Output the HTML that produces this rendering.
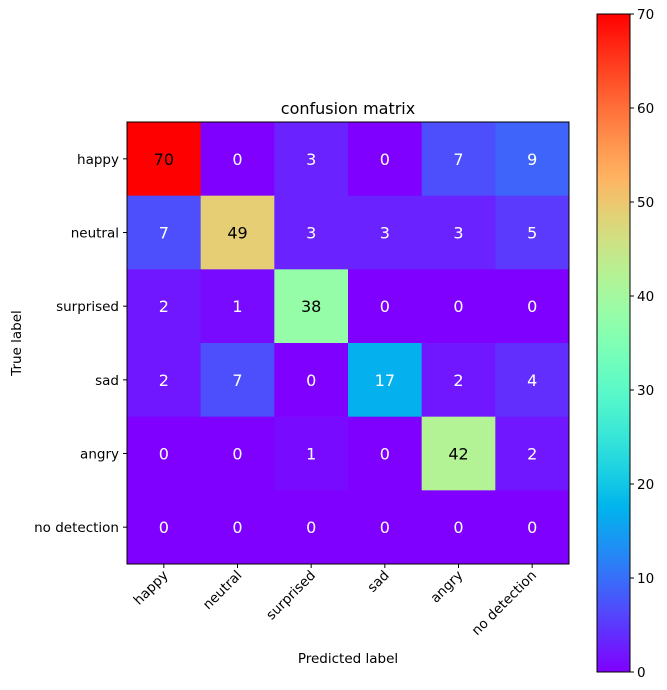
<!DOCTYPE html>
<html><head><meta charset="utf-8"><style>
html,body{margin:0;padding:0;background:#fff;}
svg{display:block;font-family:"DejaVu Sans","Liberation Sans",sans-serif;}
</style></head><body>
<svg id="chart" width="667" height="690" viewBox="0 0 667 690">
<defs><linearGradient id="cbgrad" x1="0" y1="1" x2="0" y2="0"></linearGradient></defs>
</svg>
<script>
const classes = ["happy","neutral","surprised","sad","angry","no detection"];
const matrix = [
 [70,0,3,0,7,9],
 [7,49,3,3,3,5],
 [2,1,38,0,0,0],
 [2,7,0,17,2,4],
 [0,0,1,0,42,2],
 [0,0,0,0,0,0]
];
const cbTicks = [0,10,20,30,40,50,60,70];

const NS="http://www.w3.org/2000/svg";
const svg=document.getElementById('chart');
function mk(tag,attrs,parent){const e=document.createElementNS(NS,tag);for(const k in attrs)e.setAttribute(k,attrs[k]);(parent||svg).appendChild(e);return e;}
function clip(v){return Math.max(0,Math.min(1,v));}
function rainbow(x){const r=clip(Math.abs(2*x-0.5)),g=clip(Math.sin(Math.PI*x)),b=clip(Math.cos(Math.PI*x/2));
 return `rgb(${Math.round(r*255)},${Math.round(g*255)},${Math.round(b*255)})`;}
let vmax=0;matrix.forEach(r=>r.forEach(v=>{if(v>vmax)vmax=v;}));
const L=127,T=122,S=442,n=classes.length,cw=S/n;
const xS=j=>L+j*cw, yS=i=>T+i*cw;
const thresh=vmax/2;

matrix.forEach((row,i)=>row.forEach((v,j)=>{
 const r=mk('rect',{x:xS(j),y:yS(i),width:cw+0.5,height:cw+0.5,fill:rainbow(v/vmax)});
 
 
 const t=mk('text',{x:xS(j)+cw/2,y:yS(i)+cw/2+6,'text-anchor':'middle','font-size':16,fill:v>thresh?'#000':'#fff'});
 t.textContent=v;
 
 
}));
const fr=mk('rect',{x:L,y:T,width:S,height:S,fill:'none',stroke:'#000','stroke-width':1});


classes.forEach((c,i)=>{
 const y=yS(i)+cw/2;
 mk('line',{x1:L-4,x2:L,y1:y,y2:y,stroke:'#000'});
 const t=mk('text',{x:L-8,y:y+5,'text-anchor':'end','font-size':13.5});
 t.textContent=c;
 const x=xS(i)+cw/2;
 mk('line',{x1:x,x2:x,y1:T+S,y2:T+S+4,stroke:'#000'});
 const tx=mk('text',{x:x+5,y:T+S+12,'text-anchor':'end','font-size':13.5,transform:`rotate(-45 ${x+5} ${T+S+12})`});
 tx.textContent=c;
});
let t=mk('text',{x:L+S/2,y:T-8,'text-anchor':'middle','font-size':16});t.textContent='confusion matrix';

t=mk('text',{x:L+S/2,y:663,'text-anchor':'middle','font-size':13.5});t.textContent='Predicted label';

t=mk('text',{x:21,y:T+S/2,'text-anchor':'middle','font-size':13.5,transform:`rotate(-90 21 ${T+S/2})`});t.textContent='True label';


// colorbar
const grad=document.getElementById('cbgrad');
for(let k=0;k<=20;k++){mk('stop',{offset:k/20,'stop-color':rainbow(k/20)},grad);}
const cbL=597,cbT=14,cbW=33,cbB=672;
const cy=v=>cbB-(v/vmax)*(cbB-cbT);
const cb=mk('rect',{x:cbL,y:cbT,width:cbW,height:cbB-cbT,fill:'url(#cbgrad)',stroke:'#000','stroke-width':1});

cbTicks.forEach(v=>{
 const y=cy(v);
 mk('line',{x1:cbL+cbW,x2:cbL+cbW+4,y1:y,y2:y,stroke:'#000'});
 const tt=mk('text',{x:cbL+cbW+7,y:y+5,'font-size':13.5});tt.textContent=v;
 
});
</script>
</body></html>
